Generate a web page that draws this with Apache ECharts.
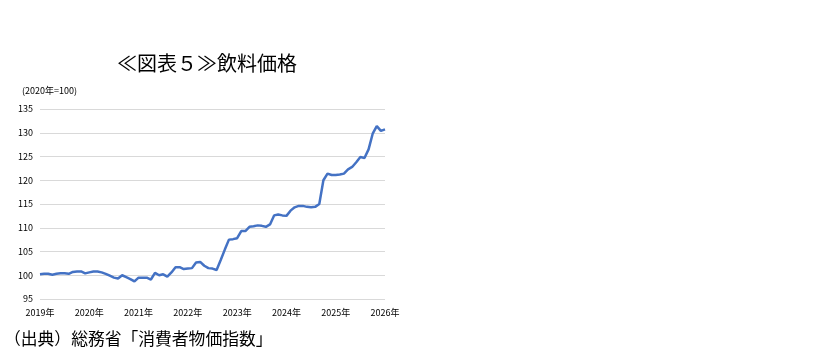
<!DOCTYPE html>
<html><head><meta charset="utf-8">
<script src="https://cdn.jsdelivr.net/npm/echarts@6/dist/echarts.min.js"></script>
<style>html,body{margin:0;padding:0;background:#fff}#c{width:832px;height:354px}</style>
</head><body><div id="c"></div>
<script>
const years = ['2019年','2020年','2021年','2022年','2023年','2024年','2025年','2026年'];
const values2019 = [100.2,100.3,100.3,100.1,100.3,100.4,100.4,100.3,100.7,100.8,100.8,100.4];
const values2020 = [100.6,100.8,100.8,100.6,100.3,99.9,99.5,99.3,100.0,99.6,99.2,98.7];
const values2021 = [99.5,99.5,99.5,99.1,100.5,100.0,100.2,99.7,100.6,101.7,101.7,101.3];
const values2022 = [101.4,101.5,102.7,102.8,102.0,101.5,101.4,101.1,103.2,105.4,107.5,107.6];
const values2023 = [107.8,109.3,109.3,110.2,110.3,110.5,110.4,110.2,110.7,112.6,112.8,112.6];
const values2024 = [112.5,113.6,114.3,114.6,114.6,114.4,114.3,114.4,115.0,120.0,121.4,121.1];
const values2025 = [121.1,121.2,121.4,122.3,122.8,123.8,124.9,124.7,126.5,129.8,131.4,130.4];
const values2026 = [130.7];
const yTicks = {min:95, max:135, interval:5};
const titleText = '≪図表５≫飲料価格';
const unitText = '(2020年=100)';
const sourceText = '（出典）総務省「消費者物価指数」';

const categories = [];
years.forEach((y, k) => {
  const n = k < years.length - 1 ? 12 : 1;
  for (let m = 1; m <= n; m++) categories.push(m === 1 ? y : y.replace('年','') + '/' + m);
});
const values = [].concat(values2019, values2020, values2021, values2022, values2023, values2024, values2025, values2026);

const chart = echarts.init(document.getElementById('c'));
const font = '"Noto Sans CJK JP", "Noto Sans", sans-serif';
chart.setOption({
  animation: false,
  backgroundColor: '#fff',
  grid: {left: 40, right: 447, top: 109, bottom: 55},
  xAxis: {
    type: 'category', data: categories, boundaryGap: false,
    axisLine: {show: false}, axisTick: {show: false},
    axisLabel: {interval: 11, fontSize: 9, color: '#000', fontFamily: font, margin: 9},
    splitLine: {show: false}
  },
  yAxis: {
    type: 'value', min: yTicks.min, max: yTicks.max, interval: yTicks.interval,
    axisLine: {show: false}, axisTick: {show: false},
    axisLabel: {fontSize: 9, color: '#000', fontFamily: font, margin: 7},
    splitLine: {lineStyle: {color: '#d9d9d9', width: 1}},
    name: unitText, nameLocation: 'end', nameGap: 14,
    nameTextStyle: {fontSize: 9, color: '#000', fontFamily: font, align: 'left', padding: [0,0,0,-18]}
  },
  series: [{
    type: 'line', data: values, symbol: 'none', smooth: false,
    lineStyle: {color: '#4472C4', width: 2.5}
  }],
  graphic: [
    {type: 'text', left: 117, top: 53, style: {text: titleText, fontSize: 20, fontFamily: font, fill: '#000'}},
    {type: 'text', left: 4, top: 330, style: {text: sourceText, fontSize: 16.8, fontFamily: font, fill: '#000'}}
  ]
});
</script></body></html>
